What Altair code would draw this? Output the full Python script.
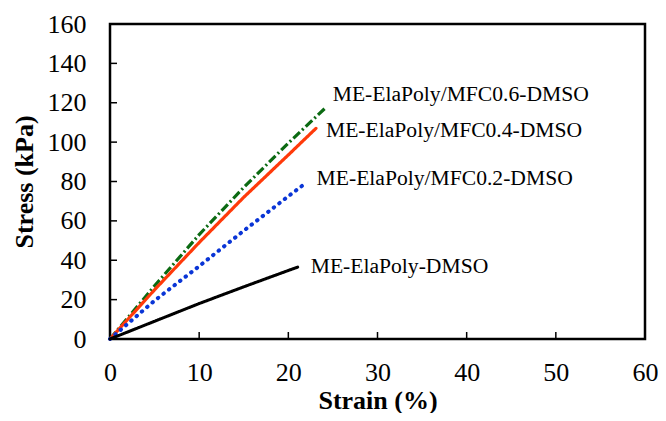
import altair as alt
import pandas as pd

# ---- data ----
names = [
    "ME-ElaPoly/MFC0.6-DMSO",
    "ME-ElaPoly/MFC0.4-DMSO",
    "ME-ElaPoly/MFC0.2-DMSO",
    "ME-ElaPoly-DMSO",
]
strain_06 = [0, 5, 10, 15, 20, 24.3]
stress_06 = [0, 27, 53, 77, 99.5, 118]
strain_04 = [0, 5, 10, 15, 20, 23.1]
stress_04 = [0, 25, 49, 72, 93.5, 107]
strain_02 = [0, 5, 10, 15, 20, 21.6]
stress_02 = [0, 19.5, 37, 55, 72.5, 78]
strain_00 = [0, 5, 10, 15, 20, 21.05]
stress_00 = [0, 9, 18, 26.5, 34.8, 36.5]

x_ticks = [0, 10, 20, 30, 40, 50, 60]
y_ticks = [0, 20, 40, 60, 80, 100, 120, 140, 160]

series = [(names[0], strain_06, stress_06), (names[1], strain_04, stress_04),
          (names[2], strain_02, stress_02), (names[3], strain_00, stress_00)]

frames = []
for n, xs, ys in series:
    frames.append(pd.DataFrame({"series": n, "strain": xs, "stress": ys,
                                "order": list(range(len(xs)))}))
df = pd.concat(frames, ignore_index=True)

styles = {
    names[0]: dict(color="#0b6a12", strokeWidth=3.2, strokeDash=[9, 3, 2, 3], strokeCap="butt", dx=6, dy=-12),
    names[1]: dict(color="#ff3a0a", strokeWidth=3.2, strokeDash=[1, 0], strokeCap="round", dx=10, dy=3),
    names[2]: dict(color="#0a35d6", strokeWidth=4, strokeDash=[0.5, 6.5], strokeCap="round", dx=14, dy=-6),
    names[3]: dict(color="#000000", strokeWidth=3, strokeDash=[1, 0], strokeCap="round", dx=13, dy=0),
}

W, H = 535, 315
FONT = "Liberation Serif"

xscale = alt.Scale(domain=[0, 60], nice=False, zero=False)
yscale = alt.Scale(domain=[0, 160], nice=False, zero=False)

x_axis = alt.Axis(values=x_ticks, title="Strain (%)", grid=False, domain=False, ticks=False,
                  labelPadding=20, labelFontSize=26, labelFont=FONT, labelColor="black",
                  titleFont=FONT, titleFontSize=26, titleFontWeight="bold", titleColor="black",
                  titlePadding=2, labelFlush=False)
y_axis = alt.Axis(values=y_ticks, title="Stress (kPa)", grid=False, domain=False, ticks=False,
                  labelPadding=24, labelFontSize=26, labelFont=FONT, labelColor="black",
                  titleFont=FONT, titleFontSize=26, titleFontWeight="bold", titleColor="black",
                  titlePadding=10, labelFlush=False)

def X(field):
    return alt.X(field, scale=xscale, axis=x_axis, title="Strain (%)")

def Y(field):
    return alt.Y(field, scale=yscale, axis=y_axis, title="Stress (kPa)")

layers = []
for n, _, _ in series:
    s = styles[n]
    sub = df[df["series"] == n]
    line = alt.Chart(sub).mark_line(
        color=s["color"], strokeWidth=s["strokeWidth"], strokeDash=s["strokeDash"],
        strokeCap=s["strokeCap"], strokeJoin="round"
    ).encode(x=X("strain:Q"), y=Y("stress:Q"), order="order:Q")
    last = sub[sub["order"] == sub["order"].max()]
    label = alt.Chart(last).mark_text(
        align="left", baseline="middle", dx=s["dx"], dy=s["dy"],
        font=FONT, fontSize=21.6, color="black"
    ).encode(x=X("strain:Q"), y=Y("stress:Q"), text="series:N")
    layers += [line, label]

# inward tick marks
xt = pd.DataFrame({"v": x_ticks[1:-1]})
yt = pd.DataFrame({"v": y_ticks[1:-1]})
xtick_layer = alt.Chart(xt).mark_rule(color="black", strokeWidth=1.5).encode(
    x=X("v:Q"), y=alt.value(H), y2=alt.value(H - 7))
ytick_layer = alt.Chart(yt).mark_rule(color="black", strokeWidth=1.5).encode(
    y=Y("v:Q"), x=alt.value(0), x2=alt.value(7))

chart = alt.layer(*layers, xtick_layer, ytick_layer).properties(
    width=W, height=H,
    autosize=alt.AutoSizeParams(type="none"),
    padding={"left": 102, "top": 16, "right": 13, "bottom": 74},
    background="white",
).configure_view(stroke="black", strokeWidth=2.5)

chart.save("out.html", embed_options={"renderer": "svg", "actions": False})
